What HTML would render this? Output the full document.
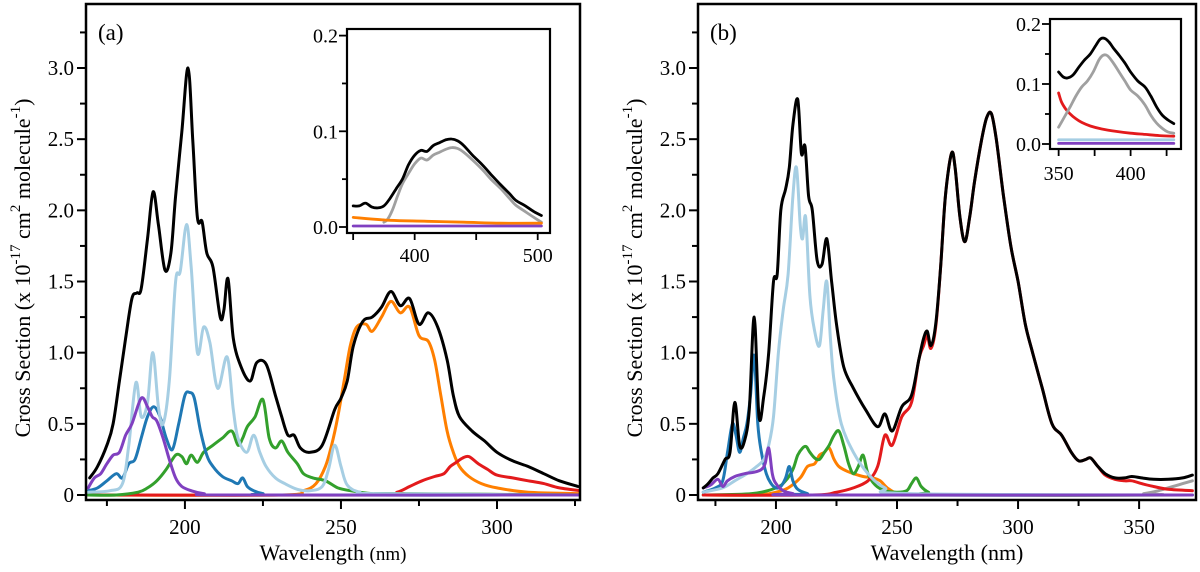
<!DOCTYPE html>
<html><head><meta charset="utf-8"><style>
html,body{margin:0;padding:0;background:#fff}
svg{display:block;font-family:"Liberation Serif",serif}
svg text{font-family:"Liberation Serif",serif;fill:#000}
</style></head><body>
<svg id="chart" width="1200" height="572" viewBox="0 0 1200 572" font-family="Liberation Serif, serif" xmlns="http://www.w3.org/2000/svg"></svg>
<script>
// ---------- Panel (a) data ----------
const aBlackX=[169.5,172,175,177,179,181,183,184.6,186,188,189.8,191.5,193.6,195.5,197,199,201,202.5,204,205.5,207,209,211.3,212.5,213.8,215.5,218,220.9,223,226,229,231,233,235,237,240,244,248,250,252,254,257,260,263,266,269,272,275,278,281,284,286,288,292,296,300,305,310,315,320,326];
const aBlackV=[0.12,0.2,0.35,0.5,0.8,1.1,1.38,1.42,1.45,1.8,2.13,1.9,1.58,1.7,2.1,2.55,3.0,2.5,1.95,1.92,1.7,1.6,1.25,1.3,1.52,1.1,0.9,0.8,0.93,0.92,0.7,0.55,0.42,0.42,0.33,0.3,0.35,0.6,0.68,0.8,1.05,1.22,1.25,1.32,1.43,1.33,1.38,1.2,1.28,1.18,0.95,0.7,0.55,0.45,0.38,0.3,0.24,0.2,0.15,0.1,0.06];
const aLblueX=[169,176,180,182,184.3,186,188,189.7,191.5,193,195,197,198.5,200.5,202,204,206,208,210.5,213.5,215.5,217,219.8,222,224,226,229,232,236,240,244,246,248,250,252,256,262,327];
const aLblueV=[0.02,0.03,0.08,0.35,0.79,0.55,0.65,1.0,0.62,0.5,0.8,1.5,1.57,1.9,1.6,1.0,1.18,1.07,0.75,0.97,0.6,0.4,0.3,0.42,0.3,0.2,0.12,0.08,0.04,0.03,0.06,0.18,0.35,0.2,0.07,0.02,0.01,0.0];
const aDblueX=[169,172,175,178,180,182,184,186,188,190,192,194,196,198,200,201.5,203,205,207,209,212,215,217,218.5,220,222,225,230,327];
const aDblueV=[0.03,0.05,0.1,0.15,0.12,0.22,0.25,0.4,0.55,0.62,0.55,0.4,0.32,0.5,0.7,0.72,0.68,0.45,0.28,0.2,0.13,0.1,0.08,0.12,0.06,0.03,0.01,0.0,0.0];
const aGreenX=[169,178,185,188,191,194,197,199,200.5,202,204,206,209,212,215,217,218.5,220,222.5,225,227,229,231,233,236,238,241,245,249,253,260,268,327];
const aGreenV=[0.0,0.0,0.02,0.05,0.1,0.18,0.28,0.27,0.22,0.28,0.23,0.3,0.35,0.4,0.45,0.35,0.4,0.48,0.55,0.67,0.4,0.33,0.38,0.3,0.22,0.15,0.12,0.1,0.05,0.03,0.01,0.01,0.0];
const aOrangeX=[169,230,238,242,245,247,249,251,253,255,258,260,263,266,269,272,275,278,280,282,284,286,288,291,295,300,310,327];
const aOrangeV=[0.0,0.0,0.03,0.08,0.2,0.35,0.55,0.8,1.05,1.18,1.2,1.15,1.25,1.36,1.28,1.32,1.12,1.08,0.95,0.7,0.45,0.3,0.2,0.13,0.08,0.05,0.02,0.01];
const aRedX=[169,262,268,272,276,280,283,285,287,289,291,294,297,300,305,310,315,320,327];
const aRedV=[0.0,0.0,0.02,0.06,0.1,0.13,0.15,0.2,0.23,0.26,0.27,0.22,0.18,0.14,0.12,0.1,0.08,0.05,0.03];
const aPurpleX=[169,171,173,175,177,179,181,183,186,188,189.5,191,193,195,197,199,202,206,215,327];
const aPurpleV=[0.05,0.12,0.15,0.22,0.28,0.3,0.42,0.5,0.68,0.62,0.55,0.52,0.4,0.25,0.12,0.06,0.03,0.01,0.0,0.0];
// inset (a)
const aiBlackX=[350,355,360,365,370,375,380,385,390,395,400,405,410,415,420,425,430,435,440,447,455,462,470,477,482,490,497,503];
const aiBlackV=[0.022,0.022,0.025,0.021,0.02,0.022,0.03,0.04,0.05,0.065,0.075,0.08,0.079,0.085,0.088,0.091,0.092,0.09,0.085,0.075,0.065,0.055,0.044,0.035,0.028,0.022,0.016,0.012];
const aiGrayX=[375,378,382,386,390,395,400,405,410,415,420,425,430,435,440,447,455,462,470,477,482,490,497,503];
const aiGrayV=[0.005,0.008,0.018,0.032,0.045,0.056,0.066,0.072,0.07,0.075,0.078,0.081,0.083,0.082,0.078,0.07,0.06,0.05,0.04,0.03,0.023,0.016,0.01,0.005];
const aiOrangeX=[350,380,410,440,470,503];
const aiOrangeV=[0.01,0.007,0.006,0.005,0.004,0.004];
const aiPurpleX=[350,503];
const aiPurpleV=[0.001,0.001];
// ---------- Panel (b) data ----------
const bBlackX=[170,172,174,176,179,181,183,185,187,189,191,193,195,197,199,200.5,202,204,205.5,207,209,210.5,212,213.5,215,217,219,221,223,225,228,232,237,242,245,248,252,256,259,261,262.5,264,266,268,270,272.5,274,276,278,280,282,285,287,289,291,294,297,300,303,306,310,314,318,322,325,328,330,333,336,340,344,347,351,356,362,368,372];
const bBlackV=[0.05,0.08,0.12,0.15,0.25,0.3,0.65,0.35,0.38,0.6,1.25,0.55,0.7,1.0,1.5,1.55,2.0,2.15,2.3,2.6,2.78,2.4,2.45,2.1,2.0,1.65,1.62,1.8,1.5,1.2,0.9,0.75,0.6,0.48,0.57,0.45,0.62,0.7,0.95,1.1,1.15,1.05,1.2,1.6,2.1,2.4,2.3,1.95,1.78,1.95,2.2,2.5,2.65,2.68,2.5,2.1,1.75,1.5,1.2,1.0,0.75,0.5,0.42,0.3,0.24,0.25,0.26,0.2,0.15,0.12,0.12,0.13,0.12,0.11,0.11,0.12,0.14];
const bRedX=[170,215,225,232,238,242,245,248,252,256,259,261,262.5,264,266,268,270,272.5,274,276,278,280,282,285,287,289,291,294,297,300,303,306,310,314,318,322,325,328,330,333,336,340,344,347,351,356,362,372];
const bRedV=[0.0,0.0,0.02,0.05,0.1,0.2,0.42,0.35,0.55,0.65,0.95,1.05,1.12,1.03,1.18,1.6,2.1,2.4,2.3,1.95,1.78,1.95,2.2,2.5,2.65,2.68,2.5,2.1,1.75,1.5,1.2,1.0,0.75,0.5,0.42,0.3,0.24,0.25,0.26,0.2,0.14,0.11,0.1,0.1,0.08,0.06,0.04,0.03];
const bGrayX=[170,345,352,358,364,372];
const bGrayV=[0.0,0.0,0.01,0.03,0.06,0.1];
const bLblueX=[170,178,183,188,192,195,197,199,201,203,205,207,208.5,210,211,212.3,214,216,218,219.5,221,222.5,224,227,232,238,245,255,372];
const bLblueV=[0.02,0.05,0.1,0.15,0.2,0.25,0.35,0.55,1.0,1.3,1.55,2.1,2.3,1.9,1.8,1.95,1.4,1.15,1.05,1.3,1.5,1.1,0.8,0.5,0.3,0.15,0.05,0.01,0.0];
const bDblueX=[170,175,178,180,182,183.5,185,186.5,188,189.5,191,192.5,194,196,198,200,202,204,205.5,207,209,213,218,372];
const bDblueV=[0.02,0.05,0.1,0.3,0.5,0.42,0.3,0.4,0.5,0.7,0.98,0.5,0.3,0.15,0.08,0.05,0.06,0.12,0.2,0.1,0.04,0.01,0.0,0.0];
const bPurpleX=[170,173,176,178,180,183,187,191,194,195.5,197,198.5,200,203,207,212,372];
const bPurpleV=[0.05,0.07,0.11,0.06,0.1,0.13,0.15,0.16,0.18,0.22,0.33,0.15,0.08,0.03,0.01,0.0,0.0];
const bGreenX=[170,190,200,204,207,209,211,212.5,214,216,218,220,222,224,226,228,230,232,234,236,238,241,245,250,254,256,258,260,263,268,372];
const bGreenV=[0.0,0.01,0.05,0.1,0.18,0.28,0.33,0.34,0.3,0.26,0.25,0.3,0.35,0.42,0.45,0.35,0.22,0.15,0.2,0.28,0.15,0.07,0.03,0.02,0.03,0.08,0.12,0.06,0.02,0.0,0.0];
const bOrangeX=[170,192,200,205,210,213,216,218,220,222,224,226,229,232,236,240,243,246,250,255,372];
const bOrangeV=[0.0,0.0,0.02,0.05,0.12,0.2,0.22,0.28,0.3,0.33,0.25,0.2,0.17,0.15,0.13,0.12,0.1,0.05,0.01,0.0,0.0];
// inset (b)
const biBlackX=[350,353,356,360,364,368,372,376,379,382,385,388,392,396,400,405,410,414,418,422,426,430];
const biBlackV=[0.12,0.112,0.11,0.115,0.128,0.14,0.15,0.165,0.175,0.176,0.17,0.16,0.148,0.135,0.12,0.105,0.095,0.08,0.062,0.048,0.04,0.034];
const biGrayX=[350,354,358,362,366,370,374,378,381,384,388,392,396,400,405,410,414,418,422,426,430];
const biGrayV=[0.028,0.045,0.062,0.08,0.095,0.105,0.12,0.14,0.148,0.147,0.135,0.12,0.105,0.09,0.08,0.065,0.048,0.035,0.026,0.02,0.018];
const biRedX=[350,352,355,358,362,366,372,380,390,400,410,420,430];
const biRedV=[0.085,0.07,0.058,0.05,0.042,0.036,0.03,0.025,0.021,0.018,0.016,0.014,0.013];
const biLblueX=[350,430];
const biLblueV=[0.007,0.007];
const biPurpleX=[350,430];
const biPurpleV=[0.001,0.001];
// ticks
const yTickLabels=["0","0.5","1.0","1.5","2.0","2.5","3.0"];
const aXTickLabels=["200","250","300"];
const bXTickLabels=["200","250","300","350"];
const aiYTickLabels=["0.0","0.1","0.2"];
const aiXTickLabels=["400","500"];
const biXTickLabels=["350","400"];

const NS="http://www.w3.org/2000/svg";
const FONT='"Liberation Serif", serif';
const svg=document.getElementById('chart');
function mk(tag,attrs,parent){const e=document.createElementNS(NS,tag);for(const k in attrs)e.setAttribute(k,attrs[k]);if(tag==='text')e.setAttribute('font-family',FONT);(parent||svg).appendChild(e);return e;}
function smoothPath(pts){
  let d="M"+pts[0][0].toFixed(1)+","+pts[0][1].toFixed(1);
  for(let i=0;i<pts.length-1;i++){
    const p0=pts[Math.max(0,i-1)],p1=pts[i],p2=pts[i+1],p3=pts[Math.min(pts.length-1,i+2)];
    const c1x=p1[0]+(p2[0]-p0[0])/6,c1y=p1[1]+(p2[1]-p0[1])/6;
    const c2x=p2[0]-(p3[0]-p1[0])/6,c2y=p2[1]-(p3[1]-p1[1])/6;
    d+=" C"+c1x.toFixed(1)+","+c1y.toFixed(1)+" "+c2x.toFixed(1)+","+c2y.toFixed(1)+" "+p2[0].toFixed(1)+","+p2[1].toFixed(1);
  }
  return d;
}
function series(g,xs,vs,sx,sy,color,w,name){
  const pts=xs.map((x,i)=>[sx(x),sy(vs[i])]);
  const p=mk('path',{d:smoothPath(pts),fill:'none',stroke:color,'stroke-width':w,'stroke-linejoin':'round','stroke-linecap':'round'},g);
  
  
}
function frame(g,x0,y0,x1,y1,w){mk('rect',{x:x0,y:y0,width:x1-x0,height:y1-y0,fill:'none',stroke:'#000','stroke-width':w},g);}

const C={black:'#000',lblue:'#a6cee3',dblue:'#1f78b4',green:'#33a02c',orange:'#ff7f00',red:'#e31a1c',purple:'#8040c0',gray:'#a0a0a0'};

function mainPanel(id,L,R,T,B,xmin,xmax,xLabels,ser,tag,titleX){
  const g=mk('g',{});
  
  
  const sx=x=>L+(x-xmin)/(xmax-xmin)*(R-L);
  const sy=v=>495-v*142.33;
  const clip=mk('clipPath',{id:'clip'+id},g);mk('rect',{x:L,y:T,width:R-L,height:B-T},clip);
  const dg=mk('g',{'clip-path':'url(#clip'+id+')'},g);
  ser.forEach(s=>series(dg,s[0],s[1],sx,sy,s[2],3,id+'-'+s[3]+'-curve'));
  frame(g,L,T,R,B,2.5);
  for(let i=0;i<=13;i++){const v=i*0.25,y=sy(v);mk('line',{x1:L-(i%2?6:9),x2:L,y1:y,y2:y,stroke:'#000','stroke-width':2},g);}
  yTickLabels.forEach((t,i)=>{const e=mk('text',{x:L-12,y:sy(i*0.5)+7,'text-anchor':'end','font-size':21},g);e.textContent=t;
    
    });
  for(let v=175;v<=xmax;v+=25){const x=sx(v);mk('line',{x1:x,x2:x,y1:B,y2:B+(v%50?6:9),stroke:'#000','stroke-width':2},g);}
  xLabels.forEach(t=>{const e=mk('text',{x:sx(+t),y:534,'text-anchor':'middle','font-size':21},g);e.textContent=t;
    
    });
  const xt=mk('text',{x:(L+R)/2,y:560,'text-anchor':'middle','font-size':22},g);
  xt.innerHTML='Wavelength <tspan font-size="19">(nm)</tspan>';
  if(id==='b') xt.innerHTML='Wavelength (nm)';
  
  
  const yt=mk('text',{transform:'translate('+titleX+',268) rotate(-90)','text-anchor':'middle','font-size':22},g);
  yt.innerHTML='Cross Section (x 10<tspan dy="-10" font-size="15">-17</tspan><tspan dy="10"> cm</tspan><tspan dy="-10" font-size="15">2</tspan><tspan dy="10"> molecule</tspan><tspan dy="-10" font-size="15">-1</tspan><tspan dy="10">)</tspan>';
  
  
  const tg=mk('text',{x:L+12,y:40,'font-size':23},g);tg.textContent='('+tag+')';
  
  
}
function inset(id,L,R,T,B,xmin,xmax,y0,ppu,xTicks,xLabels,ser,labY){
  const g=mk('g',{});
  
  
  mk('rect',{x:L,y:T,width:R-L,height:B-T,fill:'#fff'},g);
  const sx=x=>L+(x-xmin)/(xmax-xmin)*(R-L);
  const sy=v=>y0-v*ppu;
  ser.forEach(s=>series(g,s[0],s[1],sx,sy,s[2],2.8,'inset-'+id+'-'+s[3]+'-curve'));
  frame(g,L,T,R,B,2.2);
  for(let i=0;i<=4;i++){const y=sy(i*0.05);mk('line',{x1:L-(i%2?5:8),x2:L,y1:y,y2:y,stroke:'#000','stroke-width':1.8},g);}
  aiYTickLabels.forEach((t,i)=>{const e=mk('text',{x:L-9,y:sy(i*0.1)+7,'text-anchor':'end','font-size':20},g);e.textContent=t;
    
    });
  xTicks.forEach(v=>{const x=sx(v);mk('line',{x1:x,x2:x,y1:B,y2:B+7,stroke:'#000','stroke-width':1.8},g);});
  xLabels.forEach(t=>{const e=mk('text',{x:sx(+t),y:labY,'text-anchor':'middle','font-size':20},g);e.textContent=t;
    
    });
}

mainPanel('a',86,580,4,500,168.3,326.6,aXTickLabels,[
  [aOrangeX,aOrangeV,C.orange,'orange'],[aRedX,aRedV,C.red,'red'],[aGreenX,aGreenV,C.green,'green'],
  [aDblueX,aDblueV,C.dblue,'dark-blue'],[aLblueX,aLblueV,C.lblue,'light-blue'],[aPurpleX,aPurpleV,C.purple,'purple'],
  [aBlackX,aBlackV,C.black,'total']],'a',30);
inset('a',347,550,29,233,345,510,227,957,[350,400,450,500],aiXTickLabels,[
  [aiGrayX,aiGrayV,C.gray,'gray'],[aiOrangeX,aiOrangeV,C.orange,'orange'],[aiPurpleX,aiPurpleV,C.purple,'purple'],[aiBlackX,aiBlackV,C.black,'total']],262);

mainPanel('b',698,1196,4,500,167.8,373.5,bXTickLabels,[
  [bGrayX,bGrayV,C.gray,'gray'],[bOrangeX,bOrangeV,C.orange,'orange'],[bGreenX,bGreenV,C.green,'green'],[bRedX,bRedV,C.red,'red'],
  [bDblueX,bDblueV,C.dblue,'dark-blue'],[bLblueX,bLblueV,C.lblue,'light-blue'],[bPurpleX,bPurpleV,C.purple,'purple'],
  [bBlackX,bBlackV,C.black,'total']],'b',642);
inset('b',1050,1181,19,149,344,435,144,600,[350,375,400,425],biXTickLabels,[
  [biLblueX,biLblueV,C.lblue,'light-blue'],[biPurpleX,biPurpleV,C.purple,'purple'],[biRedX,biRedV,C.red,'red'],
  [biGrayX,biGrayV,C.gray,'gray'],[biBlackX,biBlackV,C.black,'total']],180);
</script>
</body></html>
